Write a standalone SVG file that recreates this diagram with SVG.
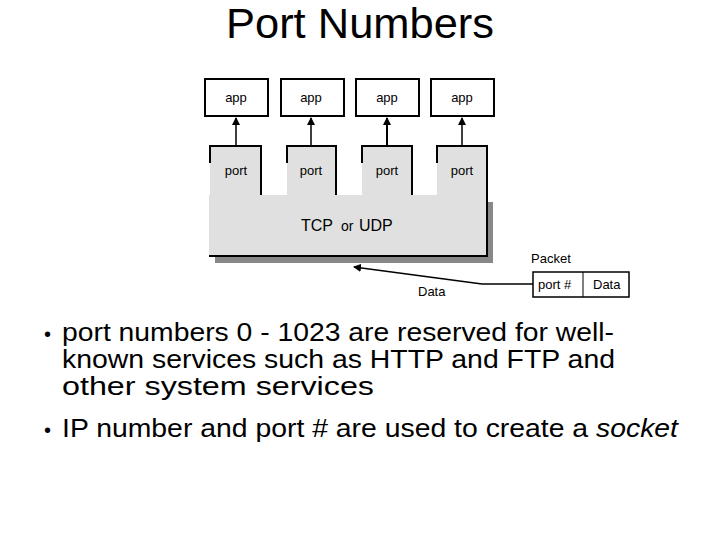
<svg xmlns="http://www.w3.org/2000/svg" width="720" height="540" viewBox="0 0 720 540">
<style>
text{font-family:"Liberation Sans",Arial,sans-serif;fill:#000}
.s{font-size:13px}
.app{fill:#fff;stroke:#000;stroke-width:2}
.pf{fill:#e0e0e0}
.ln{stroke:#000;stroke-width:2;fill:none}
</style>
<defs><marker id="ah" markerWidth="8" markerHeight="8" refX="7" refY="4" orient="auto" markerUnits="userSpaceOnUse"><path d="M0,0L8,4L0,8z" fill="#000"/></marker></defs>
<rect width="720" height="540" fill="#fff"/>
<text x="226" y="38" font-size="42" textLength="268" lengthAdjust="spacingAndGlyphs">Port Numbers</text>
<g id="apps">
<g id="app1"><rect class="app" x="205" y="79" width="63" height="37"/><text class="s" x="236" y="102" text-anchor="middle">app</text></g>
<g id="app2"><rect class="app" x="281" y="79" width="63" height="37"/><text class="s" x="311" y="102" text-anchor="middle">app</text></g>
<g id="app3"><rect class="app" x="356" y="79" width="63" height="37"/><text class="s" x="387" y="102" text-anchor="middle">app</text></g>
<g id="app4"><rect class="app" x="431" y="79" width="63" height="37"/><text class="s" x="462" y="102" text-anchor="middle">app</text></g>
</g>
<g id="tcp">
<rect x="215" y="202" width="278" height="61" fill="#888"/>
<rect x="209" y="195" width="278" height="61" fill="#e0e0e0"/>
<path class="ln" d="M209,256H487V195"/>
<text x="301" y="231" font-size="16">TCP</text><text x="341" y="231" font-size="14">or</text><text x="359" y="231" font-size="16">UDP</text>
</g>
<g id="port1"><rect class="pf" x="210" y="146" width="51" height="49"/><path class="ln" d="M210,163V146H261V195"/><text class="s" x="236" y="175" text-anchor="middle">port</text></g>
<g id="port2"><rect class="pf" x="287" y="146" width="49" height="49"/><path class="ln" d="M287,163V146H336V195"/><text class="s" x="311" y="175" text-anchor="middle">port</text></g>
<g id="port3"><rect class="pf" x="362" y="146" width="50" height="49"/><path class="ln" d="M362,163V146H412V195"/><text class="s" x="387" y="175" text-anchor="middle">port</text></g>
<g id="port4"><rect class="pf" x="437" y="146" width="50" height="49"/><path class="ln" d="M437,163V146H487V195"/><text class="s" x="462" y="175" text-anchor="middle">port</text></g>
<g id="packet">
<text class="s" x="531" y="263">Packet</text>
<rect x="533" y="272" width="96" height="25" fill="#fff" stroke="#000" stroke-width="1.5"/>
<line x1="583" y1="272" x2="583" y2="297" stroke="#000"/>
<text class="s" x="538" y="289">port #</text><text class="s" x="593" y="289">Data</text>
</g>
<g id="connectors">
<line x1="236" y1="146" x2="236" y2="118" stroke="#000" stroke-width="1.5" marker-end="url(#ah)"/>
<line x1="311" y1="146" x2="311" y2="118" stroke="#000" stroke-width="1.5" marker-end="url(#ah)"/>
<line x1="387" y1="146" x2="387" y2="118" stroke="#000" stroke-width="2" marker-end="url(#ah)"/>
<line x1="462" y1="146" x2="462" y2="118" stroke="#000" stroke-width="1.5" marker-end="url(#ah)"/>
<path d="M533,284H482L354,267" stroke="#000" stroke-width="1.5" fill="none" marker-end="url(#ah)"/>
<text class="s" x="418" y="296">Data</text>
</g>
<g id="bullets" font-size="25">
<text x="44" y="341" font-size="20">•</text><text x="62" y="341" textLength="552" lengthAdjust="spacingAndGlyphs">port numbers 0 - 1023 are reserved for well-</text>
<text x="62" y="368" textLength="553" lengthAdjust="spacingAndGlyphs">known services such as HTTP and FTP and</text>
<text x="62" y="395" textLength="312" lengthAdjust="spacingAndGlyphs">other system services</text>
<text x="44" y="437" font-size="20">•</text><text x="62" y="437" textLength="616" lengthAdjust="spacingAndGlyphs">IP number and port # are used to create a <tspan font-style="italic">socket</tspan></text>
</g>
</svg>
